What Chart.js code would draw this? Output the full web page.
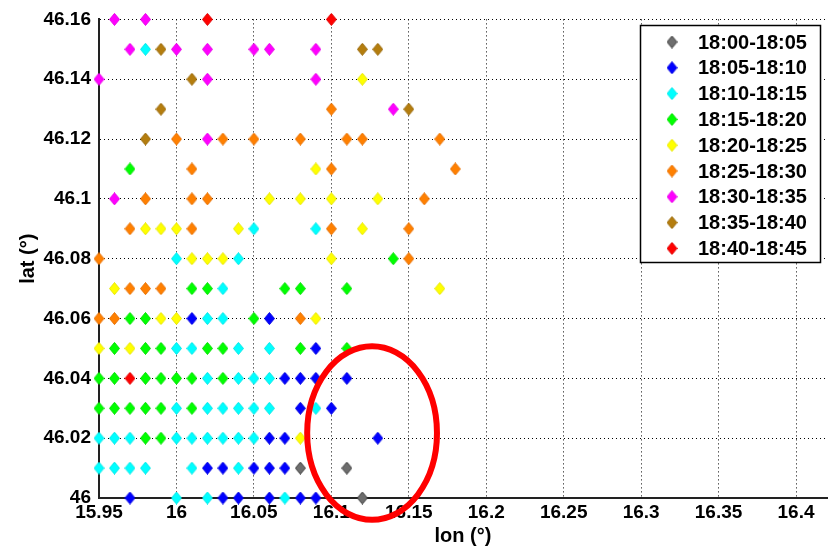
<!DOCTYPE html>
<html>
<head>
<meta charset="utf-8">
<script src="https://cdn.jsdelivr.net/npm/chart.js@4/dist/chart.umd.min.js"></script>
<style>
  body { margin: 0; background: #fff; }
  canvas { display: block; }
</style>
</head>
<body>
<canvas id="chart" width="832" height="550"></canvas>
<script>
// Time windows (legend labels)
const timeLabels = [
  "18:00-18:05", "18:05-18:10", "18:10-18:15", "18:15-18:20", "18:20-18:25",
  "18:25-18:30", "18:30-18:35", "18:35-18:40", "18:40-18:45"
];

// Points per time window, as [lon, lat]
const pts0000 = [[16.08, 46.01], [16.11, 46.01], [16.12, 46.00]];
const pts0005 = [
  [16.01, 46.06], [16.06, 46.06], [16.09, 46.05],
  [16.07, 46.04], [16.08, 46.04], [16.09, 46.04], [16.11, 46.04],
  [16.08, 46.03], [16.10, 46.03],
  [16.06, 46.02], [16.07, 46.02], [16.13, 46.02],
  [16.02, 46.01], [16.03, 46.01], [16.05, 46.01], [16.06, 46.01], [16.07, 46.01],
  [15.97, 46.00], [16.03, 46.00], [16.04, 46.00], [16.06, 46.00], [16.08, 46.00], [16.09, 46.00]
];
const pts0010 = [
  [15.98, 46.15], [16.05, 46.09], [16.09, 46.09], [16.00, 46.08], [16.04, 46.08],
  [16.03, 46.07], [16.02, 46.06], [16.03, 46.06],
  [16.00, 46.05], [16.01, 46.05], [16.04, 46.05], [16.06, 46.05],
  [16.02, 46.04], [16.04, 46.04], [16.05, 46.04], [16.06, 46.04],
  [16.00, 46.03], [16.02, 46.03], [16.03, 46.03], [16.04, 46.03], [16.05, 46.03], [16.06, 46.03], [16.09, 46.03],
  [15.95, 46.02], [15.96, 46.02], [15.97, 46.02], [16.00, 46.02], [16.01, 46.02], [16.02, 46.02],
  [16.03, 46.02], [16.04, 46.02], [16.05, 46.02],
  [15.95, 46.01], [15.96, 46.01], [15.97, 46.01], [15.98, 46.01], [16.01, 46.01], [16.04, 46.01],
  [16.00, 46.00], [16.02, 46.00], [16.07, 46.00]
];
const pts0015 = [
  [15.97, 46.11], [16.14, 46.08],
  [16.01, 46.07], [16.02, 46.07], [16.07, 46.07], [16.08, 46.07], [16.11, 46.07],
  [15.97, 46.06], [15.98, 46.06], [16.05, 46.06],
  [15.96, 46.05], [15.98, 46.05], [15.99, 46.05], [16.02, 46.05], [16.03, 46.05], [16.08, 46.05], [16.11, 46.05],
  [15.95, 46.04], [15.96, 46.04], [15.98, 46.04], [15.99, 46.04], [16.00, 46.04], [16.01, 46.04], [16.03, 46.04],
  [15.95, 46.03], [15.96, 46.03], [15.97, 46.03], [15.98, 46.03], [15.99, 46.03], [16.01, 46.03],
  [15.98, 46.02], [15.99, 46.02]
];
const pts0020 = [
  [16.12, 46.14], [16.09, 46.11],
  [16.06, 46.10], [16.08, 46.10], [16.10, 46.10], [16.13, 46.10],
  [15.98, 46.09], [15.99, 46.09], [16.00, 46.09], [16.04, 46.09], [16.12, 46.09],
  [16.01, 46.08], [16.02, 46.08], [16.03, 46.08], [16.10, 46.08],
  [15.96, 46.07], [16.17, 46.07],
  [15.99, 46.06], [16.00, 46.06], [16.09, 46.06],
  [15.95, 46.05], [15.97, 46.05], [16.08, 46.02]
];
const pts0025 = [
  [16.10, 46.13],
  [16.00, 46.12], [16.03, 46.12], [16.05, 46.12], [16.08, 46.12], [16.11, 46.12], [16.12, 46.12], [16.17, 46.12],
  [16.01, 46.11], [16.10, 46.11], [16.18, 46.11],
  [15.98, 46.10], [16.01, 46.10], [16.02, 46.10], [16.16, 46.10],
  [15.97, 46.09], [16.01, 46.09], [16.10, 46.09], [16.15, 46.09],
  [15.95, 46.08], [16.15, 46.08],
  [15.97, 46.07], [15.98, 46.07], [15.99, 46.07],
  [15.95, 46.06], [15.96, 46.06], [16.08, 46.06]
];
const pts0030 = [
  [15.96, 46.16], [15.98, 46.16],
  [15.97, 46.15], [16.00, 46.15], [16.02, 46.15], [16.05, 46.15], [16.06, 46.15], [16.09, 46.15],
  [15.95, 46.14], [16.02, 46.14], [16.09, 46.14],
  [16.14, 46.13], [16.02, 46.12], [15.96, 46.10]
];
const pts0035 = [
  [15.99, 46.15], [16.12, 46.15], [16.13, 46.15], [16.01, 46.14],
  [15.99, 46.13], [16.15, 46.13], [15.98, 46.12]
];
const pts0040 = [[16.02, 46.16], [16.10, 46.16], [15.97, 46.04]];

const allSeries = [pts0000, pts0005, pts0010, pts0015, pts0020, pts0025, pts0030, pts0035, pts0040];

// Axis ticks
const lonTicks = [15.95, 16, 16.05, 16.1, 16.15, 16.2, 16.25, 16.3, 16.35, 16.4];
const latTicks = [46, 46.02, 46.04, 46.06, 46.08, 46.1, 46.12, 46.14, 46.16];

// Marker colours
const faceColors = ["#6e6e6e", "#0000ff", "#00ffff", "#00ff00", "#ffff00", "#ff8000", "#ff00ff", "#b47d0e", "#ff0000"];
const edgeColors = ["#3a3a3a", "#0000e0", "#00e8e8", "#00e000", "#e8e800", "#e87000", "#e800e8", "#9a6a0a", "#e00000"];

// Highlight ellipse, in data units
const ellipseLon = 16.1263, ellipseLat = 46.0217, ellipseRLon = 0.0419, ellipseRLat = 0.029;

// Tall MATLAB-like diamond marker
function makeDiamond(face, edge) {
  const c = document.createElement("canvas");
  c.width = 11;
  c.height = 13;
  const g = c.getContext("2d");
  g.beginPath();
  g.moveTo(5.5, 0.5);
  g.lineTo(10.5, 6.5);
  g.lineTo(5.5, 12.5);
  g.lineTo(0.5, 6.5);
  g.closePath();
  g.fillStyle = face;
  g.fill();
  g.strokeStyle = edge;
  g.lineWidth = 1;
  g.stroke();
  return c;
}

const markers = faceColors.map((c, i) => makeDiamond(c, edgeColors[i]));

const fmt = (v) => String(Number(Number(v).toFixed(2)));

// Red ellipse drawn over everything
const ellipsePlugin = {
  id: "ellipse",
  afterDraw(chart) {
    const { ctx, scales } = chart;
    const cx = scales.x.getPixelForValue(ellipseLon);
    const cy = scales.y.getPixelForValue(ellipseLat);
    const rx = Math.abs(scales.x.getPixelForValue(ellipseLon + ellipseRLon) - cx);
    const ry = Math.abs(scales.y.getPixelForValue(ellipseLat + ellipseRLat) - cy);
    ctx.save();
    ctx.beginPath();
    ctx.ellipse(cx, cy, rx, ry, 0, 0, Math.PI * 2);
    ctx.strokeStyle = "#ff0000";
    ctx.lineWidth = 6;
    ctx.stroke();
    ctx.restore();
  }
};

// Boxed legend in the top right corner
const legendPlugin = {
  id: "boxLegend",
  afterDraw(chart) {
    const ctx = chart.ctx;
    const left = 640, top = 25, w = 180, h = 237;
    ctx.save();
    ctx.fillStyle = "#fff";
    ctx.fillRect(left, top, w, h);
    ctx.strokeStyle = "#000";
    ctx.lineWidth = 1.5;
    ctx.strokeRect(left + 0.5, top + 0.5, w, h);
    ctx.font = "bold 20px 'Liberation Sans', Arial, sans-serif";
    ctx.textBaseline = "middle";
    ctx.fillStyle = "#000";
    chart.data.datasets.forEach((ds, i) => {
      const y = top + 17 + i * 25.8;
      ctx.drawImage(markers[i], left + 32 - 5.5, y - 6.5);
      ctx.fillText(ds.label, left + 58, y + 1);
    });
    ctx.restore();
  }
};

const tickFont = { family: "'Liberation Sans', Arial, sans-serif", size: 19, weight: "bold" };
const titleFont = { family: "'Liberation Sans', Arial, sans-serif", size: 20, weight: "bold" };

const gridOpts = { color: "#000", lineWidth: 1, drawTicks: false };
const borderOpts = { display: true, color: "#222", width: 2, dash: [1, 3] };

new Chart(document.getElementById("chart"), {
  type: "scatter",
  data: {
    datasets: allSeries.map((pts, i) => ({
      label: timeLabels[i],
      data: pts.map(([x, y]) => ({ x, y })),
      pointStyle: markers[i],
      backgroundColor: faceColors[i],
      borderColor: edgeColors[i],
      clip: false,
      order: allSeries.length - i
    }))
  },
  options: {
    responsive: false,
    animation: false,
    events: [],
    layout: { padding: { left: 0, top: 18, right: 4, bottom: 0 } },
    plugins: { legend: { display: false }, tooltip: { enabled: false } },
    scales: {
      x: {
        type: "linear",
        min: 15.95,
        max: 16.42,
        afterBuildTicks: (s) => { s.ticks = lonTicks.map((v) => ({ value: v })); },
        afterFit: (s) => { s.height = 52; },
        ticks: { color: "#000", font: tickFont, padding: 3, maxRotation: 0, autoSkip: false, callback: fmt },
        grid: gridOpts,
        border: borderOpts,
        title: { display: true, text: "lon (°)", color: "#000", font: titleFont, padding: { top: 0, bottom: 2 } }
      },
      y: {
        type: "linear",
        min: 46,
        max: 46.16,
        afterBuildTicks: (s) => { s.ticks = latTicks.map((v) => ({ value: v })); },
        afterFit: (s) => { s.width = 99; },
        ticks: { color: "#000", font: tickFont, padding: 8, autoSkip: false, callback: fmt },
        grid: gridOpts,
        border: borderOpts,
        title: { display: true, text: "lat (°)", color: "#000", font: titleFont, padding: { top: 16, bottom: 0 } }
      }
    }
  },
  plugins: [ellipsePlugin, legendPlugin]
});
</script>
</body>
</html>
